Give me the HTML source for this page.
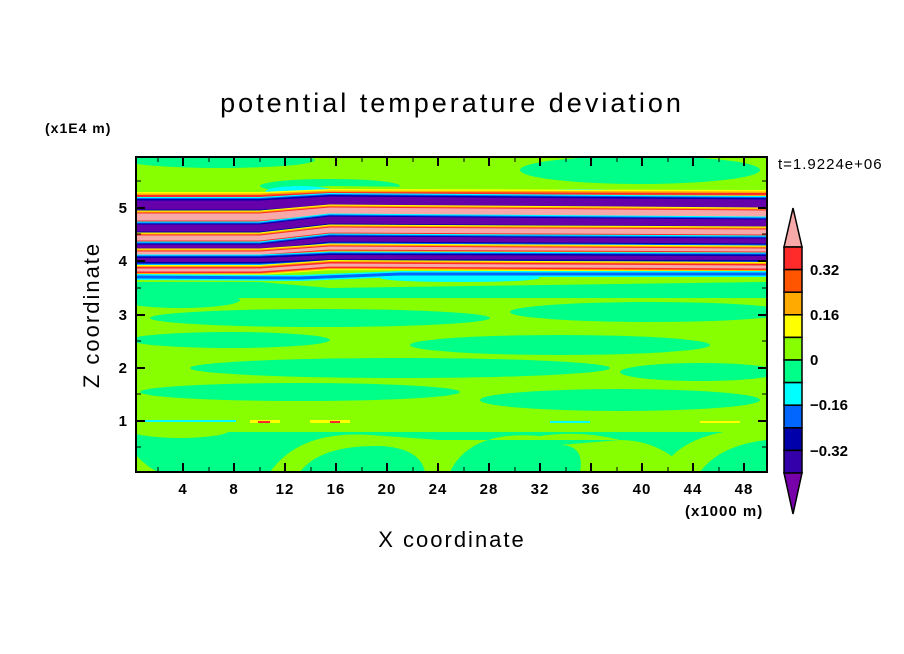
<!DOCTYPE html>
<html><head><meta charset="utf-8"><style>
html,body{margin:0;padding:0;background:#fff;}
svg{display:block;}
text{font-family:"Liberation Sans","DejaVu Sans",sans-serif;fill:#000;}
</style></head><body>
<svg width="904" height="654" viewBox="0 0 904 654" xmlns="http://www.w3.org/2000/svg">
<defs><clipPath id="pc"><rect x="136" y="157" width="631" height="315"/></clipPath></defs>
<g clip-path="url(#pc)">
<rect x="136" y="157" width="631" height="315" fill="#88ff00"/>
<g fill="#00ff88">
<ellipse cx="220" cy="160" rx="95" ry="8"/>
<ellipse cx="640" cy="170" rx="120" ry="14"/>
<ellipse cx="330" cy="186" rx="70" ry="7"/>
<rect x="136" y="282" width="631" height="16"/>
<ellipse cx="320" cy="318" rx="170" ry="9"/>
<ellipse cx="650" cy="312" rx="140" ry="10"/>
<ellipse cx="230" cy="340" rx="100" ry="8"/>
<ellipse cx="560" cy="345" rx="150" ry="10"/>
<ellipse cx="400" cy="368" rx="210" ry="10"/>
<ellipse cx="700" cy="372" rx="80" ry="9"/>
<ellipse cx="300" cy="392" rx="160" ry="9"/>
<ellipse cx="620" cy="400" rx="140" ry="11"/>
<ellipse cx="180" cy="300" rx="60" ry="8"/>
<rect x="136" y="430" width="631" height="42"/>
<ellipse cx="240" cy="458" rx="60" ry="22"/>
</g>
<g fill="#88ff00">
<rect x="136" y="422" width="631" height="10"/>
<ellipse cx="180" cy="430" rx="50" ry="8"/>
<path d="M270,472 Q300,430 370,435 L440,440 Q450,460 450,472 L425,472 Q420,448 380,446 Q320,445 300,472 Z"/>
<path d="M450,472 Q470,430 540,436 Q580,430 620,440 L440,440 Z"/>
<path d="M580,472 Q585,445 560,445 L620,440 Q660,440 690,472 Z"/>
<path d="M660,472 Q680,435 740,430 L767,430 L767,440 Q720,445 700,472 Z"/>
<path d="M136,472 L136,455 Q150,470 160,472 Z"/>
</g>
<rect x="136" y="420" width="100" height="2" fill="#00ffff"/>
<rect x="250" y="420" width="30" height="3" fill="#ffff00"/>
<rect x="258" y="421" width="12" height="2" fill="#ff2a2a"/>
<rect x="310" y="420" width="40" height="3" fill="#ffff00"/>
<rect x="330" y="421" width="10" height="2" fill="#ff2a2a"/>
<rect x="550" y="421" width="40" height="2" fill="#00ffff"/>
<rect x="700" y="421" width="40" height="2" fill="#ffff00"/>
<path d="M136,190 L260,190 L330,186 L767,190 L767,282 L330,288 L260,282 L136,282 Z" fill="#88ff00"/>
<ellipse cx="300" cy="192" rx="35" ry="6" fill="#00ffff"/>
<ellipse cx="580" cy="194" rx="60" ry="5" fill="#00ffff"/>
<ellipse cx="460" cy="278" rx="80" ry="4" fill="#00ffff"/>
<g fill="none" stroke-linejoin="round">
<polyline points="136,196 260,196 330,193 767,194" stroke="#ffff00" stroke-width="8"/><polyline points="136,196 260,196 330,193 767,194" stroke="#ffaa00" stroke-width="5"/><polyline points="136,196 260,196 330,193 767,194" stroke="#ff2a2a" stroke-width="2"/>
<polyline points="136,205 260,205 330,201 767,204" stroke="#00ffff" stroke-width="16"/>
<polyline points="136,205 260,205 330,201 767,204" stroke="#0066ff" stroke-width="14"/>
<polyline points="136,205 260,205 330,201 767,204" stroke="#0000aa" stroke-width="12"/>
<polyline points="136,205 260,205 330,201 767,204" stroke="#6600aa" stroke-width="9"/>
<polyline points="136,217 260,217 330,211 767,214" stroke="#ffff00" stroke-width="13"/>
<polyline points="136,217 260,217 330,211 767,214" stroke="#ffaa00" stroke-width="11"/>
<polyline points="136,217 260,217 330,211 767,214" stroke="#ff2a2a" stroke-width="9"/>
<polyline points="136,217 260,217 330,211 767,214" stroke="#f7a8a8" stroke-width="7"/>
<polyline points="136,228 260,228 330,220 767,223" stroke="#00ffff" stroke-width="13"/>
<polyline points="136,228 260,228 330,220 767,223" stroke="#0066ff" stroke-width="11"/>
<polyline points="136,228 260,228 330,220 767,223" stroke="#0000aa" stroke-width="9"/>
<polyline points="136,228 260,228 330,220 767,223" stroke="#6600aa" stroke-width="7"/>
<polyline points="136,238 260,238 330,230 767,232" stroke="#ffff00" stroke-width="11"/>
<polyline points="136,238 260,238 330,230 767,232" stroke="#ffaa00" stroke-width="9"/>
<polyline points="136,238 260,238 330,230 767,232" stroke="#ff2a2a" stroke-width="7"/>
<polyline points="136,238 260,238 330,230 767,232" stroke="#f7a8a8" stroke-width="5"/>
<polyline points="136,247 260,247 330,239 767,241" stroke="#00ffff" stroke-width="11"/>
<polyline points="136,247 260,247 330,239 767,241" stroke="#0066ff" stroke-width="9"/>
<polyline points="136,247 260,247 330,239 767,241" stroke="#0000aa" stroke-width="7"/>
<polyline points="136,247 260,247 330,239 767,241" stroke="#6600aa" stroke-width="5"/>
<polyline points="136,253 260,253 330,248 767,250" stroke="#ffff00" stroke-width="9"/>
<polyline points="136,253 260,253 330,248 767,250" stroke="#ffaa00" stroke-width="7"/>
<polyline points="136,253 260,253 330,248 767,250" stroke="#ff2a2a" stroke-width="5"/>
<polyline points="136,253 260,253 330,248 767,250" stroke="#f7a8a8" stroke-width="3"/>
<polyline points="136,260 260,260 330,257 767,258" stroke="#00ffff" stroke-width="11"/>
<polyline points="136,260 260,260 330,257 767,258" stroke="#0066ff" stroke-width="9"/>
<polyline points="136,260 260,260 330,257 767,258" stroke="#0000aa" stroke-width="7"/>
<polyline points="136,260 260,260 330,257 767,258" stroke="#6600aa" stroke-width="4"/>
<polyline points="136,270 260,270 330,265 767,267" stroke="#ffff00" stroke-width="10"/>
<polyline points="136,270 260,270 330,265 767,267" stroke="#ffaa00" stroke-width="8"/>
<polyline points="136,270 260,270 330,265 767,267" stroke="#ff2a2a" stroke-width="6"/>
<polyline points="136,270 260,270 330,265 767,267" stroke="#f7a8a8" stroke-width="3"/>
<polyline points="136,277 300,278 400,274 767,274" stroke="#00ffff" stroke-width="6"/>
<polyline points="136,277 300,278 400,274 767,274" stroke="#0066ff" stroke-width="3"/>
</g>
</g>
<rect x="136" y="157" width="631" height="315" fill="none" stroke="#000" stroke-width="2"/>
<g stroke="#000" stroke-width="2">
<path d="M183,472v-9M234,472v-9M285,472v-9M336,472v-9M387,472v-9M438,472v-9M489,472v-9M540,472v-9M591,472v-9M642,472v-9M693,472v-9M744,472v-9"/>
<path d="M183,157v9M234,157v9M285,157v9M336,157v9M387,157v9M438,157v9M489,157v9M540,157v9M591,157v9M642,157v9M693,157v9M744,157v9"/>
<path d="M136,421h9M136,368h9M136,315h9M136,261h9M136,208h9M767,421h-9M767,368h-9M767,315h-9M767,261h-9M767,208h-9"/>
</g>
<g stroke="#000" stroke-width="1">
<path d="M158,472v-5M209,472v-5M260,472v-5M311,472v-5M362,472v-5M413,472v-5M464,472v-5M515,472v-5M566,472v-5M617,472v-5M668,472v-5M719,472v-5"/>
<path d="M158,157v5M209,157v5M260,157v5M311,157v5M362,157v5M413,157v5M464,157v5M515,157v5M566,157v5M617,157v5M668,157v5M719,157v5"/>
<path d="M136,447h5M136,394h5M136,341h5M136,288h5M136,234h5M136,181h5M767,447h-5M767,394h-5M767,341h-5M767,288h-5M767,234h-5M767,181h-5"/>
</g>
<g font-size="15" text-anchor="middle" font-weight="bold" letter-spacing="1">
<text x="183" y="494">4</text><text x="234" y="494">8</text><text x="285" y="494">12</text><text x="336" y="494">16</text><text x="387" y="494">20</text><text x="438" y="494">24</text><text x="489" y="494">28</text><text x="540" y="494">32</text><text x="591" y="494">36</text><text x="642" y="494">40</text><text x="693" y="494">44</text><text x="744" y="494">48</text>
</g>
<g font-size="15" text-anchor="end" font-weight="bold">
<text x="127" y="426">1</text><text x="127" y="373">2</text><text x="127" y="320">3</text><text x="127" y="266">4</text><text x="127" y="213">5</text>
</g>
<text x="452" y="112" font-size="27" text-anchor="middle" letter-spacing="3">potential temperature deviation</text>
<text x="45" y="133" font-size="14" font-weight="bold" letter-spacing="1">(x1E4 m)</text>
<text x="685" y="516" font-size="15" font-weight="bold" letter-spacing="1">(x1000 m)</text>
<text x="452" y="547" font-size="22" text-anchor="middle" letter-spacing="2">X coordinate</text>
<text transform="translate(99,315) rotate(-90)" font-size="22" text-anchor="middle" letter-spacing="2">Z coordinate</text>
<text x="778" y="169" font-size="15" letter-spacing="1">t=1.9224e+06</text>
<g stroke="#000" stroke-width="1.5">
<path d="M793,208 L802,247 L784,247 Z" fill="#f7a8a8"/>
<rect x="784" y="247" width="18" height="22.6" fill="#ff2a2a"/>
<rect x="784" y="269.6" width="18" height="22.6" fill="#ff5500"/>
<rect x="784" y="292.2" width="18" height="22.6" fill="#ffaa00"/>
<rect x="784" y="314.8" width="18" height="22.6" fill="#ffff00"/>
<rect x="784" y="337.4" width="18" height="22.6" fill="#88ff00"/>
<rect x="784" y="360" width="18" height="22.6" fill="#00ff88"/>
<rect x="784" y="382.6" width="18" height="22.6" fill="#00ffff"/>
<rect x="784" y="405.2" width="18" height="22.6" fill="#0066ff"/>
<rect x="784" y="427.8" width="18" height="22.6" fill="#0000aa"/>
<rect x="784" y="450.4" width="18" height="22.6" fill="#3300aa"/>
<path d="M784,473 L802,473 L793,514 Z" fill="#7700aa"/>
</g>
<g font-size="15" font-weight="bold">
<text x="810" y="275">0.32</text><text x="810" y="320">0.16</text><text x="810" y="365">0</text><text x="810" y="410">−0.16</text><text x="810" y="456">−0.32</text>
</g>
</svg>
</body></html>
